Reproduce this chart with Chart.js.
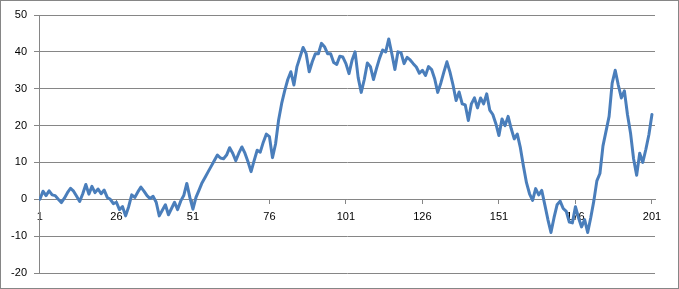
<!DOCTYPE html>
<html>
<head>
<meta charset="utf-8">
<script src="https://cdn.jsdelivr.net/npm/chart.js@4/dist/chart.umd.min.js"></script>
<style>
  html, body { margin: 0; padding: 0; background: #fff; }
  #wrap { width: 679px; height: 289px; position: relative; }
</style>
</head>
<body>
<div id="wrap"><canvas id="chart" width="679" height="289"></canvas></div>
<script>
//-------------------------------------------------------------------
// data
//-------------------------------------------------------------------
const seriesValues = [
  0, 2.2, 1, 2.3, 1.2, 1, 0, -0.9, 0.3, 1.8,
  3, 2.2, 0.8, -0.6, 1.5, 4, 1.4, 3.5, 1.8, 2.8,
  1.5, 2.5, 0.5, 0, -1.2, -0.8, -2.8, -2, -4.5, -2,
  1.2, 0.5, 2, 3.3, 2.2, 1, 0.2, 0.8, -0.8, -4.5,
  -3, -1.5, -4.2, -2.5, -0.8, -2.8, -0.5, 1, 4.3, 0.5,
  -2.7, 0.5, 2.5, 4.5, 6, 7.5, 9, 10.5, 12, 11.2,
  11, 12, 14, 12.5, 10.5, 12.5, 14.2, 12.5, 10.2, 7.5,
  10.5, 13.3, 12.8, 15.5, 17.7, 17, 11.3, 15, 21.5, 26,
  29.5, 32.5, 34.6, 31, 36, 38.6, 41.2, 39.5, 34.6, 37.3,
  39.5, 39.5, 42.3, 41.4, 39.5, 39.5, 37.1, 36.6, 38.8, 38.6,
  36.8, 34.1, 37.7, 40, 33, 29, 32.5, 37, 36, 32.5,
  35.5, 38.3, 40.5, 40, 43.5, 39.5, 35.2, 40, 39.8, 36.8,
  38.5, 37.8, 36.8, 35.9, 34.2, 35, 33.6, 36, 35.2, 32.7,
  29, 31.5, 34.5, 37.3, 34.5, 31, 26.8, 29.1, 25.9, 25.6,
  21.4, 25.9, 27.5, 24.8, 27.5, 25.9, 28.6, 24.2, 23, 20.5,
  17.3, 21.8, 20, 22.5, 19.2, 16.4, 17.7, 14, 9, 4.5,
  1.5, -0.3, 2.9, 1.2, 2.4, -1.5, -5.5, -9, -5, -1.5,
  -0.5, -2.5, -3.3, -6.2, -6.4, -2, -5, -7.5, -5.5, -9,
  -5, -0.5, 5, 7, 14.5, 18.5, 22.5, 31.5, 35, 31,
  27.5, 29.4, 23, 18, 11, 6.5, 12.5, 10, 13.5, 17.5,
  23
];

// x positions 1..201, labelled every 25th
const categories = seriesValues.map((v, i) => i + 1);
const xTickLabels = [1, 26, 51, 76, 101, 126, 151, 176, 201];
const yTicks = [-20, -10, 0, 10, 20, 30, 40, 50];

const gridGray = '#868686';
const lineBlue = '#4a7ebb';

//-------------------------------------------------------------------
// chart-area border like the Excel frame
//-------------------------------------------------------------------
const frame = {
  id: 'frame',
  beforeDraw(chart) {
    const c = chart.ctx;
    c.save();
    c.fillStyle = '#fff';
    c.fillRect(0, 0, chart.width, chart.height);
    c.strokeStyle = gridGray;
    c.lineWidth = 1;
    c.strokeRect(0.5, 0.5, chart.width - 1, chart.height - 1);
    c.restore();
  }
};

const points = categories.map((x, i) => ({ x: x, y: seriesValues[i] }));

new Chart(document.getElementById('chart').getContext('2d'), {
  type: 'line',
  data: {
    datasets: [{
      data: points,
      borderColor: lineBlue,
      borderWidth: 3,
      borderJoinStyle: 'round',
      borderCapStyle: 'round',
      pointRadius: 0,
      tension: 0,
      fill: false
    }]
  },
  options: {
    responsive: false,
    animation: false,
    devicePixelRatio: 1,
    layout: { padding: { left: 0, top: 15, right: 24, bottom: 16 } },
    plugins: {
      legend: { display: false },
      tooltip: { enabled: false }
    },
    scales: {
      x: {
        type: 'linear',
        min: 0.7,
        max: 202,
        position: { y: 0 },
        border: { color: gridGray, width: 1 },
        grid: {
          drawOnChartArea: false,
          drawTicks: true,
          tickLength: 4,
          tickColor: gridGray
        },
        ticks: {
          maxRotation: 0,
          minRotation: 0,
          padding: 7,
          color: '#000',
          font: { family: 'Liberation Sans', size: 11 }
        },
        afterBuildTicks: (scale) => { scale.ticks = xTickLabels.map(v => ({ value: v })); }
      },
      y: {
        min: -20,
        max: 50,
        border: { color: gridGray, width: 1 },
        grid: {
          color: gridGray,
          lineWidth: 1,
          drawTicks: true,
          tickLength: 5
        },
        ticks: {
          padding: 7,
          color: '#000',
          font: { family: 'Liberation Sans', size: 11 }
        },
        afterBuildTicks: (scale) => { scale.ticks = yTicks.map(v => ({ value: v })); },
        afterFit: (scale) => { scale.width = 39; }
      }
    }
  },
  plugins: [frame]
});
</script>
</body>
</html>
